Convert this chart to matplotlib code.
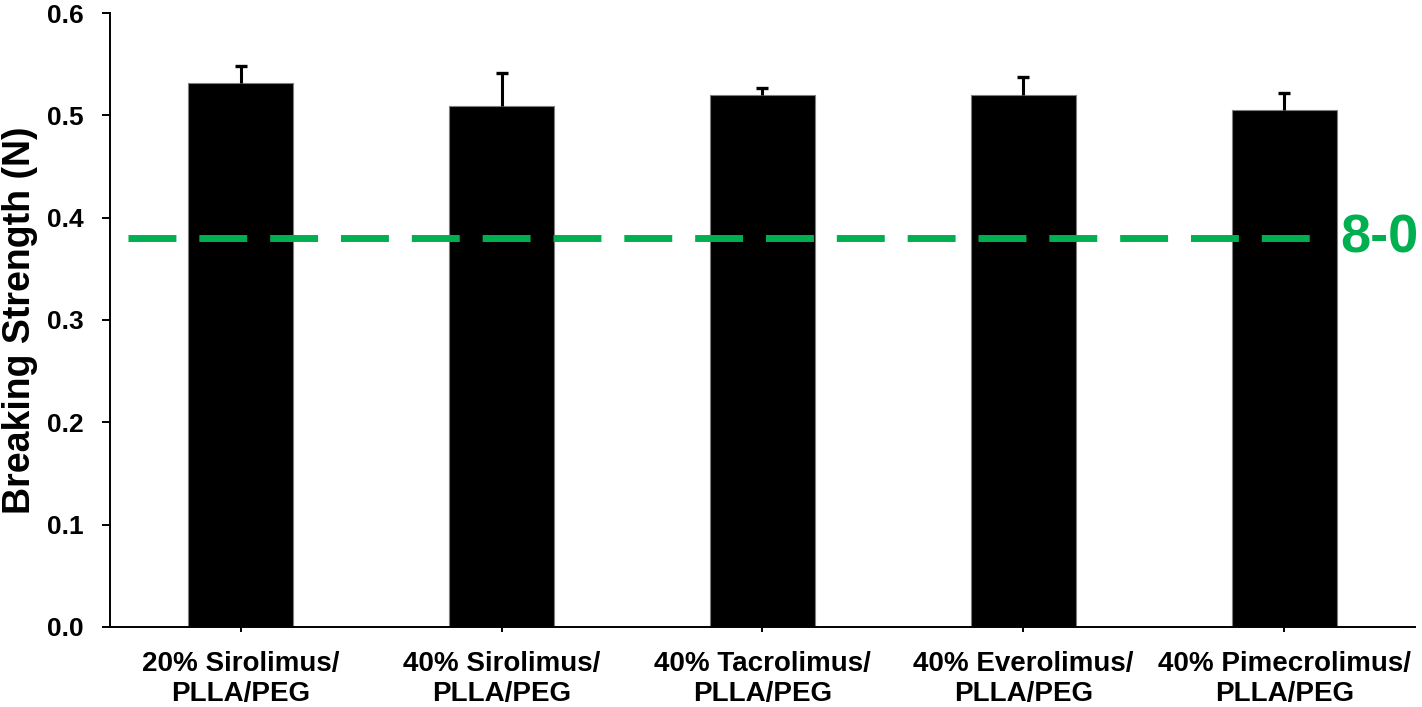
import matplotlib
matplotlib.use('Agg')
import matplotlib.pyplot as plt
import numpy as np

plt.rcParams['font.family'] = ['Liberation Sans', 'DejaVu Sans']
plt.rcParams['font.weight'] = 'bold'

groups = ['20% Sirolimus/\nPLLA/PEG', '40% Sirolimus/\nPLLA/PEG',
          '40% Tacrolimus/\nPLLA/PEG', '40% Everolimus/\nPLLA/PEG',
          '40% Pimecrolimus/\nPLLA/PEG']
strength = [0.532, 0.509, 0.520, 0.520, 0.505]
err = [0.016, 0.032, 0.007, 0.017, 0.017]
suture_ref = 0.38
suture_label = '8-0'

fig = plt.figure(figsize=(14.22, 7.07), dpi=100)
ax = fig.add_axes([0.0774, 0.1132, 0.9176, 0.8684])

x = np.arange(len(groups))
ax.bar(x, strength, width=0.4, color='black', edgecolor='#7f7f7f', linewidth=0.8, zorder=2)
# upper error bars only
top = np.array(strength) + np.array(err)
ax.vlines(x, strength, top, color='black', linewidth=2.2, zorder=3)
ax.plot(x, top, linestyle='none', marker='_', markersize=9, markeredgewidth=2.4,
        color='black', zorder=3)

# 8-0 suture reference line
ax.plot([-0.432, 4.122], [suture_ref, suture_ref], color='#00b050', linewidth=5,
        dashes=(6.9, 3.3), zorder=4, clip_on=False)
ax.annotate(suture_label, xy=(4.214, suture_ref), xytext=(0, -10), textcoords='offset points',
            color='#00b050', fontsize=39, fontweight='bold', ha='left', va='baseline',
            annotation_clip=False)

ax.set_xlim(-0.5, 4.5)
ax.set_ylim(0, 0.6)
ax.set_yticks([0.0, 0.1, 0.2, 0.3, 0.4, 0.5, 0.6])
ax.set_yticklabels(['0.0', '0.1', '0.2', '0.3', '0.4', '0.5', '0.6'])
ax.set_xticks(x)
ax.set_xticklabels(groups, linespacing=1.2)

ax.spines['top'].set_visible(False)
ax.spines['right'].set_visible(False)
ax.spines['left'].set_linewidth(1.4)
ax.spines['bottom'].set_linewidth(1.4)
ax.tick_params(axis='y', length=5.8, width=1.4, pad=13, labelsize=19)
ax.tick_params(axis='x', length=3.5, width=1.4, pad=14, labelsize=20)

ax.set_ylabel('Breaking Strength (N)', fontsize=27, fontweight='bold')
ax.yaxis.set_label_coords(-0.0552, 0.5)

fig.savefig('out.png', dpi=100)
